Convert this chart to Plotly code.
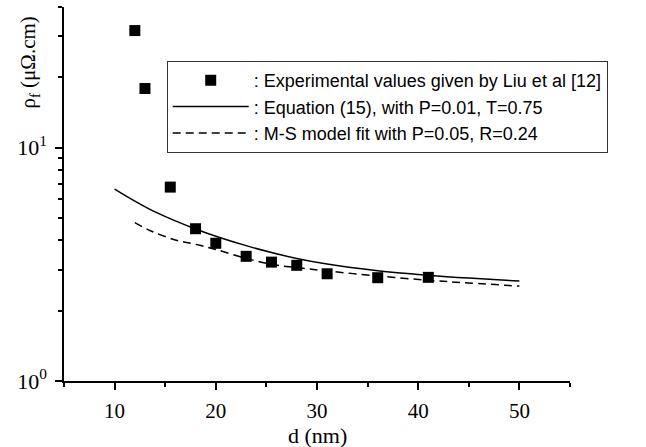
import plotly.graph_objects as go

# Experimental data (Liu et al)
d_exp = [12, 13, 15.5, 18, 20, 23, 25.5, 28, 31, 36, 41]
rho_exp = [31.7, 17.9, 6.77, 4.49, 3.89, 3.42, 3.23, 3.13, 2.88, 2.77, 2.78]

# Equation (15) curve
d_eq = [10, 12, 14, 16, 18, 20, 23, 25.5, 28, 31, 36, 41, 45, 50]
rho_eq = [6.64, 5.9, 5.3, 4.85, 4.48, 4.17, 3.80, 3.55, 3.35, 3.17, 2.97, 2.84, 2.76, 2.68]

# M-S model fit
d_ms = [12, 13.6, 16.1, 18, 20, 23, 25.5, 28, 31, 36, 41, 45, 50]
rho_ms = [4.77, 4.39, 4.01, 3.85, 3.66, 3.35, 3.16, 3.06, 2.96, 2.82, 2.70, 2.63, 2.55]

names = [": Experimental values given by Liu et al [12]",
         ": Equation (15), with P=0.01, T=0.75",
         ": M-S model fit with P=0.05, R=0.24"]

x_major = [10, 20, 30, 40, 50]
x_minor = [5, 15, 25, 35, 45, 55]
y_major = [1, 10]
y_major_text = ["10<sup>0</sup>", "10<sup>1</sup>"]
y_minor = [2, 3, 4, 5, 6, 7, 8, 9, 20, 30, 40]

serif = "Liberation Serif, Times New Roman, serif"
sans = "Liberation Sans, Arial, sans-serif"

fig = go.Figure()
fig.add_trace(go.Scatter(x=d_exp, y=rho_exp, mode="markers", name=names[0],
                         marker=dict(symbol="square", size=11, color="black")))
fig.add_trace(go.Scatter(x=d_eq, y=rho_eq, mode="lines", name=names[1], line_shape="spline",
                         line=dict(color="black", width=1.5)))
fig.add_trace(go.Scatter(x=d_ms, y=rho_ms, mode="lines", name=names[2], line_shape="spline",
                         line=dict(color="black", width=1.5, dash="8px,5px")))

fig.update_layout(
    width=646, height=447,
    margin=dict(l=64, r=76, t=7, b=66),
    paper_bgcolor="white", plot_bgcolor="white",
    showlegend=True,
    legend=dict(x=0.203, y=0.8556, xanchor="left", yanchor="top",
                bordercolor="#333", borderwidth=1, bgcolor="white",
                font=dict(family=sans, size=18, color="black"),
                itemwidth=76, tracegroupgap=0),
    xaxis=dict(range=[5, 55], showline=True, linecolor="black", linewidth=1.5,
               showgrid=False, zeroline=False, ticks="outside", ticklen=7,
               tickwidth=1.5, tickcolor="black", tickvals=x_major,
               ticklabelstandoff=3,
               tickfont=dict(family=serif, size=21, color="black"),
               minor=dict(tickvals=x_minor, ticks="outside", ticklen=4, tickwidth=1.5,
                          tickcolor="black", showgrid=False)),
    yaxis=dict(type="log", range=[0, 1.60206], showline=True, linecolor="black",
               linewidth=1.5, showgrid=False, zeroline=False, ticks="outside",
               ticklen=7, tickwidth=1.5, tickcolor="black",
               tickvals=y_major, ticktext=y_major_text, ticklabelstandoff=4,
               tickfont=dict(family=serif, size=22, color="black"),
               minor=dict(tickvals=y_minor, ticks="outside", ticklen=4, tickwidth=1.5,
                          tickcolor="black", showgrid=False)),
    annotations=[
        dict(text="ρ<sub>f</sub> (μΩ.cm)", xref="paper", yref="paper",
             x=-0.0692, y=0.8513, xanchor="center", yanchor="middle",
             textangle=-90, showarrow=False,
             font=dict(family=serif, size=21, color="black")),
        dict(text="d (nm)", xref="paper", yref="paper",
             x=0.5, y=-0.145, xanchor="center", yanchor="middle", showarrow=False,
             font=dict(family=serif, size=22, color="black")),
    ],
)

fig.write_html("out.html", config={"displayModeBar": False},
               post_script="document.body.style.margin='0';document.body.style.overflow='hidden';")
